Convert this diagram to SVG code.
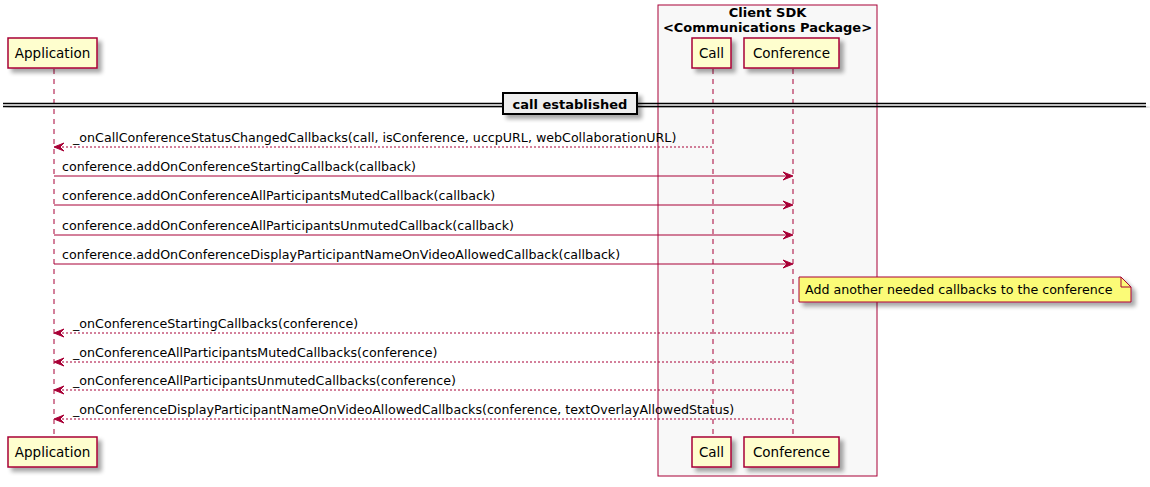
<svg xmlns="http://www.w3.org/2000/svg" width="1150" height="487" viewBox="0 0 1150 487">
<style>
.part{fill:#FEFECE;stroke:#A80036;stroke-width:1.5}
.pt{font-family:"DejaVu Sans",sans-serif;font-size:13.5px;fill:#000}
.life{stroke:#A80036;stroke-width:1;stroke-dasharray:5,5}
.msg{font-family:"DejaVu Sans",sans-serif;font-size:12.65px;fill:#000}
.sol{stroke:#A80036;stroke-width:1}
.dash{stroke:#A80036;stroke-width:1;stroke-dasharray:2,2}
.ah{fill:#A80036;stroke:#A80036;stroke-width:1}
</style>
<defs>
<filter id="sh" x="-20%" y="-20%" width="150%" height="160%">
<feGaussianBlur in="SourceAlpha" stdDeviation="2"/>
<feOffset dx="4" dy="4" result="b"/>
<feComponentTransfer><feFuncA type="linear" slope="0.35"/></feComponentTransfer>
<feMerge><feMergeNode/><feMergeNode in="SourceGraphic"/></feMerge>
</filter>
</defs>
<rect width="1150" height="487" fill="#FFFFFF"/>
<g id="box-client-sdk">
<rect x="658" y="5" width="219" height="471" fill="#F8F8F8" stroke="#A80036" stroke-width="1"/>
<text x="767.5" y="17" text-anchor="middle" font-family="DejaVu Sans,sans-serif" font-size="13" font-weight="bold">Client SDK</text>
<text x="767.5" y="32" text-anchor="middle" font-family="DejaVu Sans,sans-serif" font-size="13" font-weight="bold">&lt;Communications Package&gt;</text>
</g>
<g id="lifelines">
<line class="life" x1="54" y1="69" x2="54" y2="437"/>
<line class="life" x1="713" y1="69" x2="713" y2="437"/>
<line class="life" x1="793" y1="69" x2="793" y2="437"/>
</g>
<g id="p-application">
<rect class="part" x="8" y="38" width="89" height="30" filter="url(#sh)"/>
<text class="pt" x="52.5" y="58" text-anchor="middle">Application</text>
<rect class="part" x="8" y="437" width="89" height="30" filter="url(#sh)"/>
<text class="pt" x="52.5" y="457" text-anchor="middle">Application</text>
</g>
<g id="p-call">
<rect class="part" x="692" y="38" width="39" height="30" filter="url(#sh)"/>
<text class="pt" x="711.5" y="58" text-anchor="middle">Call</text>
<rect class="part" x="692" y="437" width="39" height="30" filter="url(#sh)"/>
<text class="pt" x="711.5" y="457" text-anchor="middle">Call</text>
</g>
<g id="p-conference">
<rect class="part" x="744" y="38" width="95" height="30" filter="url(#sh)"/>
<text class="pt" x="791.5" y="58" text-anchor="middle">Conference</text>
<rect class="part" x="744" y="437" width="95" height="30" filter="url(#sh)"/>
<text class="pt" x="791.5" y="457" text-anchor="middle">Conference</text>
</g>
<g id="divider">
<g filter="url(#sh)">
<line x1="3" y1="103.5" x2="1146" y2="103.5" stroke="#000" stroke-width="1.5"/>
<line x1="3" y1="106.5" x2="1146" y2="106.5" stroke="#000" stroke-width="1.5"/>
</g>
<rect x="503" y="93" width="134" height="21" fill="#EEEEEE" stroke="#000" stroke-width="2" filter="url(#sh)"/>
<text x="570" y="109" text-anchor="middle" font-family="DejaVu Sans,sans-serif" font-size="13" font-weight="bold">call established</text>
</g>
<g id="connectors">
<line class="dash" x1="58" y1="147" x2="713" y2="147"/>
<polygon class="ah" points="54,147 64,143 60,147 64,151"/>
<text class="msg" x="73" y="142">_onCallConferenceStatusChangedCallbacks(call, isConference, uccpURL, webCollaborationURL)</text>

<line class="sol" x1="54" y1="176" x2="789" y2="176"/>
<polygon class="ah" points="793,176 783,172 787,176 783,180"/>
<text class="msg" x="62" y="171">conference.addOnConferenceStartingCallback(callback)</text>

<line class="sol" x1="54" y1="205" x2="789" y2="205"/>
<polygon class="ah" points="793,205 783,201 787,205 783,209"/>
<text class="msg" x="62" y="200">conference.addOnConferenceAllParticipantsMutedCallback(callback)</text>

<line class="sol" x1="54" y1="235" x2="789" y2="235"/>
<polygon class="ah" points="793,235 783,231 787,235 783,239"/>
<text class="msg" x="62" y="230">conference.addOnConferenceAllParticipantsUnmutedCallback(callback)</text>

<line class="sol" x1="54" y1="264" x2="789" y2="264"/>
<polygon class="ah" points="793,264 783,260 787,264 783,268"/>
<text class="msg" x="62" y="259">conference.addOnConferenceDisplayParticipantNameOnVideoAllowedCallback(callback)</text>

<line class="dash" x1="58" y1="333" x2="793" y2="333"/>
<polygon class="ah" points="54,333 64,329 60,333 64,337"/>
<text class="msg" x="73" y="328">_onConferenceStartingCallbacks(conference)</text>

<line class="dash" x1="58" y1="362" x2="793" y2="362"/>
<polygon class="ah" points="54,362 64,358 60,362 64,366"/>
<text class="msg" x="73" y="357">_onConferenceAllParticipantsMutedCallbacks(conference)</text>

<line class="dash" x1="58" y1="390" x2="793" y2="390"/>
<polygon class="ah" points="54,390 64,386 60,390 64,394"/>
<text class="msg" x="73" y="385">_onConferenceAllParticipantsUnmutedCallbacks(conference)</text>

<line class="dash" x1="58" y1="419" x2="793" y2="419"/>
<polygon class="ah" points="54,419 64,415 60,419 64,423"/>
<text class="msg" x="73" y="414">_onConferenceDisplayParticipantNameOnVideoAllowedCallbacks(conference, textOverlayAllowedStatus)</text>
</g>
<g id="note">
<path d="M799,277 L1121,277 L1131,287 L1131,302 L799,302 Z" fill="#FBFB77" stroke="#A80036" stroke-width="1" filter="url(#sh)"/>
<path d="M1121,277 L1121,287 L1131,287" fill="none" stroke="#A80036" stroke-width="1"/>
<text class="msg" x="805" y="294">Add another needed callbacks to the conference</text>
</g>
</svg>
